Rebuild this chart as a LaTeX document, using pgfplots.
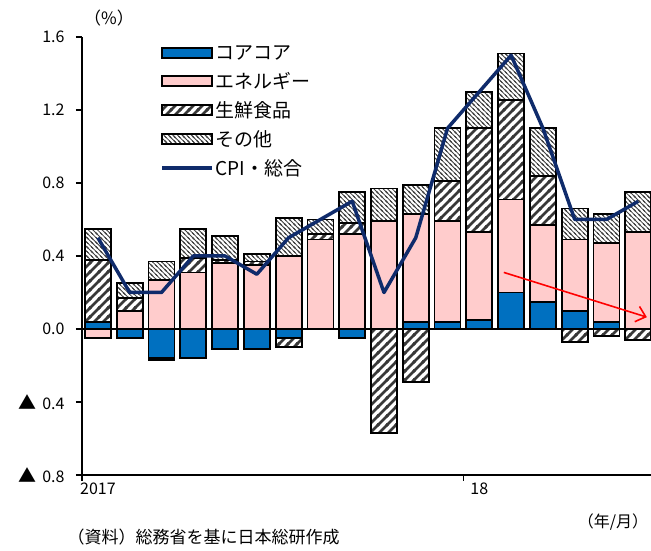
\documentclass[border=0pt]{standalone}
\usepackage{fontspec}
\setmainfont{Noto Sans CJK JP}
\usepackage{pgfplots}
\usepackage{pgfplotstable}
\pgfplotsset{compat=1.18}
\usetikzlibrary{patterns,arrows.meta}

\definecolor{core}{HTML}{0070C0}
\definecolor{ene}{HTML}{FFCCCC}
\definecolor{cpi}{HTML}{0F2B6B}

\pgfdeclarepatternformonly{freshlines}{\pgfqpoint{-1pt}{-1pt}}{\pgfqpoint{10pt}{10pt}}{\pgfqpoint{9pt}{9pt}}{%
  \pgfsetlinewidth{2.8pt}%
  \pgfpathmoveto{\pgfqpoint{-1pt}{-1pt}}\pgfpathlineto{\pgfqpoint{10pt}{10pt}}%
  \pgfpathmoveto{\pgfqpoint{-1pt}{8pt}}\pgfpathlineto{\pgfqpoint{1pt}{10pt}}%
  \pgfpathmoveto{\pgfqpoint{8pt}{-1pt}}\pgfpathlineto{\pgfqpoint{10pt}{1pt}}%
  \pgfusepath{stroke}}
\pgfdeclarepatternformonly{otherlines}{\pgfqpoint{-1pt}{-1pt}}{\pgfqpoint{5.6pt}{5.6pt}}{\pgfqpoint{4.6pt}{4.6pt}}{%
  \pgfsetlinewidth{0.8pt}%
  \pgfpathmoveto{\pgfqpoint{-1pt}{5.6pt}}\pgfpathlineto{\pgfqpoint{5.6pt}{-1pt}}%
  \pgfpathmoveto{\pgfqpoint{-1pt}{1pt}}\pgfpathlineto{\pgfqpoint{1pt}{-1pt}}%
  \pgfpathmoveto{\pgfqpoint{3.6pt}{5.6pt}}\pgfpathlineto{\pgfqpoint{5.6pt}{3.6pt}}%
  \pgfusepath{stroke}}

\newcommand\lbl{\fontsize{16pt}{19pt}\selectfont}
\newcommand\leg{\fontsize{19pt}{22pt}\selectfont}
\newcommand\note{\fontsize{17pt}{20pt}\selectfont}

% positive parts
\pgfplotstableread{
x core ene fresh other
0 0.04 0 0.34 0.17
1 0 0.10 0.07 0.08
2 0 0.27 0 0.10
3 0 0.31 0.08 0.16
4 0 0.36 0.02 0.13
5 0 0.35 0.02 0.04
6 0 0.40 0 0.21
7 0 0.49 0.03 0.08
8 0 0.52 0.06 0.17
9 0 0.59 0 0.18
10 0.04 0.59 0 0.16
11 0.04 0.55 0.22 0.29
12 0.05 0.48 0.57 0.20
13 0.20 0.51 0.545 0.255
14 0.15 0.42 0.27 0.26
15 0.10 0.39 0 0.17
16 0.04 0.43 0 0.16
17 0 0.53 0 0.22
}\pos

% negative parts
\pgfplotstableread{
x core ene fresh
0 0 -0.05 0
1 -0.05 0 0
2 -0.16 0 -0.01
3 -0.16 0 0
4 -0.11 0 0
5 -0.11 0 0
6 -0.05 0 -0.05
7 0 0 0
8 -0.05 0 0
9 0 0 -0.57
10 0 0 -0.29
11 0 0 0
12 0 0 0
13 0 0 0
14 0 0 0
15 0 0 -0.07
16 0 0 -0.04
17 0 0 -0.06
}\neg

% CPI total
\pgfplotstableread{
x cpi
0 0.5
1 0.2
2 0.2
3 0.4
4 0.4
5 0.3
6 0.5
7 0.6
8 0.7
9 0.2
10 0.5
11 1.1
12 1.3
13 1.5
14 1.1
15 0.6
16 0.6
17 0.7
}\cpitab

\pgfplotsset{
  base/.style={scale only axis, width=569pt, height=438pt,
    xmin=-0.5, xmax=17.4, ymin=-0.8, ymax=1.6},
  hidden/.style={base, axis lines=none, xtick=\empty, ytick=\empty},
  barsty/.style={bar width=26pt, draw=black, line width=1.8pt},
  freshsty/.style={barsty, pattern=freshlines, pattern color=black!78},
  othersty/.style={barsty, pattern=otherlines, pattern color=black!75},
}

\begin{document}
\begin{tikzpicture}
% axis A: frame, ticks, negative bars
\begin{axis}[base,
  axis x line=bottom, axis y line=left,
  axis line style={-, line width=1.2pt},
  tick align=outside, major tick length=6pt,
  tick style={line width=1.2pt, black},
  ytick={-0.8,-0.4,0,0.4,0.8,1.2,1.6},
  yticklabels={{\fontsize{18pt}{19pt}\selectfont▲}\,\,0.8,{\fontsize{18pt}{19pt}\selectfont▲}\,\,0.4,0.0,0.4,0.8,1.2,1.6},
  xtick={-0.5,11.5}, xticklabels={,},
  extra x ticks={0,12}, extra x tick labels={2017,18},
  extra x tick style={major tick length=0pt, xticklabel style={yshift=-4pt}},
  every tick label/.append style={font=\lbl},
  yticklabel style={xshift=-8pt},
  ybar stacked,
]
\addplot[barsty, fill=core] table[x=x,y=core]{\neg};
\addplot[barsty, fill=ene] table[x=x,y=ene]{\neg};
\addplot[freshsty] table[x=x,y=fresh]{\neg};
\end{axis}

% axis B: positive bars
\begin{axis}[hidden, ybar stacked]
\addplot[barsty, fill=core] table[x=x,y=core]{\pos};
\addplot[barsty, fill=ene] table[x=x,y=ene]{\pos};
\addplot[freshsty] table[x=x,y=fresh]{\pos};
\addplot[othersty] table[x=x,y=other]{\pos};
\end{axis}

% axis C: zero line, CPI line, arrow, legend, notes
\begin{axis}[hidden, clip=false,
  legend style={at={(axis description cs:0.132,0.99)}, anchor=north west,
    draw=none, fill=none, font=\leg, row sep=7.5pt,
    /tikz/every even column/.append style={column sep=2pt}},
  legend cell align=left,
]
\addlegendimage{legend image code/.code={\draw[fill=core,draw=black,line width=1.8pt] (0pt,-5pt) rectangle (50pt,5pt);}}
\addlegendentry{コアコア}
\addlegendimage{legend image code/.code={\draw[fill=ene,draw=black,line width=1.8pt] (0pt,-5pt) rectangle (50pt,5pt);}}
\addlegendentry{エネルギー}
\addlegendimage{legend image code/.code={\draw[draw=black,line width=1.8pt,pattern=freshlines, pattern color=black!78] (0pt,-5pt) rectangle (50pt,5pt);}}
\addlegendentry{生鮮食品}
\addlegendimage{legend image code/.code={\draw[draw=black,line width=1.8pt,pattern=otherlines, pattern color=black!75] (0pt,-5pt) rectangle (50pt,5pt);}}
\addlegendentry{その他}
\addlegendimage{legend image code/.code={\draw[cpi,line width=3.5pt] (0pt,0pt) -- (50pt,0pt);}}
\addlegendentry{CPI・総合}
\draw[black, line width=1.6pt] (axis cs:-0.5,0) -- (axis cs:17.4,0);
\addplot[cpi, line width=3.5pt, line join=round, mark=none, forget plot] table[x=x,y=cpi]{\cpitab};
\draw[red, line width=1.6pt, -{Straight Barb[length=9pt,width=16pt]}] (axis cs:12.77,0.31) -- (axis cs:17.27,0.065);
\coordinate (bl) at (rel axis cs:0,0);
\coordinate (tr) at (rel axis cs:1,1);
\node[font=\note, anchor=center] at ([shift={(27pt,19pt)}]rel axis cs:0,1) {（\%）};
\node[font=\lbl, anchor=center] at ([shift={(-38pt,-47pt)}]rel axis cs:1,0) {（年/月）};
\node[font=\note, anchor=west] at ([shift={(-18pt,-62pt)}]rel axis cs:0,0) {（資料）総務省を基に日本総研作成};
\end{axis}
\pgfresetboundingbox
\path[use as bounding box] ([shift={(-82pt,-76pt)}]bl) rectangle ([shift={(0pt,37pt)}]tr);
\end{tikzpicture}
\end{document}
